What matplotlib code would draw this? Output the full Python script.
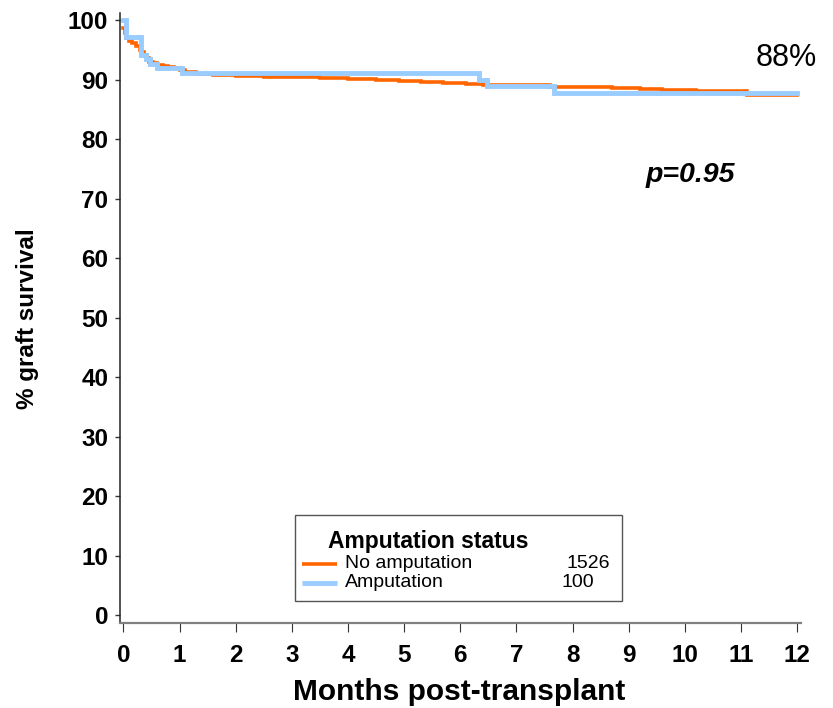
import matplotlib
matplotlib.use("Agg")
import matplotlib.pyplot as plt
from matplotlib.lines import Line2D
from matplotlib.patches import Rectangle

# ---- data ----
no_amp_t = [0, 0.02, 0.05, 0.10, 0.16, 0.22, 0.29, 0.33, 0.37, 0.42, 0.46, 0.52,
            0.60, 0.70, 0.80, 0.90, 1.00, 1.10, 1.30, 1.60, 2.00, 2.50, 3.00, 3.50,
            4.00, 4.50, 4.90, 5.30, 5.70, 6.10, 6.40, 7.00, 7.60, 8.20, 8.70, 9.20,
            9.60, 10.20, 10.90, 11.10, 12.0]
no_amp_s = [98.7, 97.8, 96.9, 96.5, 96.1, 95.6, 95.0, 94.6, 94.2, 93.6, 93.0, 92.8,
            92.5, 92.3, 92.1, 91.9, 91.6, 91.3, 91.0, 90.8, 90.6, 90.5, 90.4, 90.3,
            90.1, 89.9, 89.7, 89.6, 89.4, 89.2, 89.1, 89.0, 88.8, 88.7, 88.5, 88.4,
            88.2, 88.1, 88.0, 87.45, 87.45]

amp_t = [0, 0.05, 0.32, 0.40, 0.47, 0.59, 1.04, 6.33, 6.48, 7.67, 12.0]
amp_s = [100, 97.2, 94.1, 93.4, 92.6, 91.9, 91.1, 90.0, 88.9, 87.8, 87.8]

x_ticks = list(range(0, 13))
y_ticks = list(range(0, 101, 10))
series_labels = ["No amputation", "Amputation"]
series_counts = ["1526", "100"]
series_colors = ["#FF6600", "#99CCFF"]

W, H = 833, 708
fig = plt.figure(figsize=(W / 100, H / 100), dpi=100)
FONT = "Liberation Sans"

def fx(px):
    return px / W

def fy(py):
    return 1 - py / H

ax = fig.add_axes([fx(120), fy(623), fx(801) - fx(120), fy(13.3) - fy(623)])

ax.step(no_amp_t, no_amp_s, where="post", color=series_colors[0], lw=2.6,
        solid_joinstyle="miter", zorder=3)
ax.step(amp_t, amp_s, where="post", color=series_colors[1], lw=3.5,
        solid_joinstyle="miter", zorder=4)

ax.set_xlim(-0.062, 12.07)
ax.set_ylim(-1.345, 101.13)
ax.set_xticks(x_ticks)
ax.set_yticks(y_ticks)
ax.set_xticklabels([str(v) for v in x_ticks], fontfamily=FONT, fontweight="bold", fontsize=17.5)
ax.set_yticklabels([str(v) for v in y_ticks], fontfamily=FONT, fontweight="bold", fontsize=17.5)
ax.tick_params(axis="y", direction="out", length=3.5, width=1.0, pad=5, color="#333333")
ax.tick_params(axis="x", direction="out", length=6.5, width=0.8, pad=8.5, color="#333333")

for s in ["top", "right"]:
    ax.spines[s].set_visible(False)
ax.spines["left"].set_color("#222222")
ax.spines["left"].set_linewidth(1.1)
ax.spines["bottom"].set_color("#808080")
ax.spines["bottom"].set_linewidth(1.6)

# axis titles
fig.text(fx(459), fy(692), "Months post-transplant", ha="center", va="center",
         fontfamily=FONT, fontweight="bold", fontsize=21.5)
fig.text(fx(28), fy(319), "% graft survival", ha="center", va="center", rotation=90,
         fontfamily=FONT, fontweight="bold", fontsize=17.5)

# annotations
fig.text(fx(786.7), fy(57.7), "88%", ha="center", va="center",
         fontfamily=FONT, fontsize=22)
fig.text(fx(690), fy(175), "p=0.95", ha="center", va="center",
         fontfamily=FONT, fontweight="bold", fontstyle="italic", fontsize=20.5)

# legend box
fig.add_artist(Rectangle((fx(295), fy(601)), fx(622) - fx(295), fy(515) - fy(601),
                         transform=fig.transFigure, facecolor="white",
                         edgecolor="#555555", lw=1.0, zorder=5))
fig.text(fx(328), fy(541.7), "Amputation status", ha="left", va="center",
         fontfamily=FONT, fontweight="bold", fontsize=16.5, zorder=6)
entry_y = [564, 582.7]
count_x = [610, 594]
lws = [2.6, 3.5]
for lab, cnt, col, yy, cx, lw in zip(series_labels, series_counts, series_colors,
                                     entry_y, count_x, lws):
    fig.add_artist(Line2D([fx(302), fx(337)], [fy(yy), fy(yy)], transform=fig.transFigure,
                          color=col, lw=lw, solid_capstyle="butt", zorder=6))
    fig.text(fx(345), fy(yy), lab, ha="left", va="center",
             fontfamily=FONT, fontsize=14, zorder=6)
    fig.text(fx(cx), fy(yy), cnt, ha="right", va="center",
             fontfamily=FONT, fontsize=14, zorder=6)

fig.savefig("out.png", dpi=100)
